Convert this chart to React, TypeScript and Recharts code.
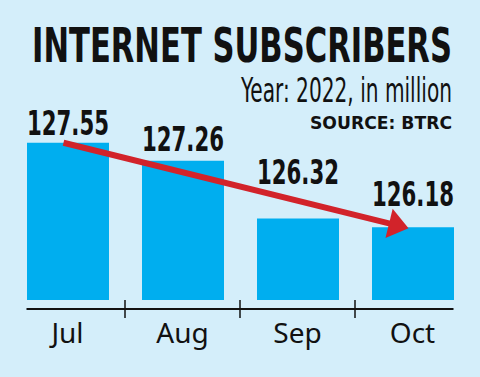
import { BarChart, Bar, XAxis, YAxis, LabelList, ReferenceLine } from "recharts";

const months = ["Jul", "Aug", "Sep", "Oct"];
const subscribers = [127.55, 127.26, 126.32, 126.18];
const yDomain = [125, 128];

const data = months.map((month, i) => ({ month, value: subscribers[i] }));

const BG = "#d4eefa";
const BAR = "#00aeef";
const RED = "#d2232a";
const INK = "#111111";
const NARROW = "'DejaVu Sans Condensed', 'DejaVu Sans', sans-serif";

// gap between a bar top and its value label (labels dodge the arrow)
const labelGap = [8, 10, 35, 21];

const HALF_BAND = 57.5;
const HALF_BAR = 41;

function MonthTick(props: any) {
  const { x, y, payload, index } = props;
  const last = index === months.length - 1;
  const left = index === 0 ? x - HALF_BAR : x - HALF_BAND;
  const right = last ? x + HALF_BAR : x + HALF_BAND;
  return (
    <g>
      <line x1={left} x2={right} y1={y + 9} y2={y + 9} stroke={INK} strokeWidth={2} />
      {!last && (
        <line
          x1={x + HALF_BAND}
          x2={x + HALF_BAND}
          y1={y}
          y2={y + 18}
          stroke={INK}
          strokeWidth={1.5}
        />
      )}
      <text
        x={x}
        y={y + 43}
        textAnchor="middle"
        fontFamily="'Noto Sans', sans-serif"
        fontSize={28}
        fill={INK}
      >
        {payload.value}
      </text>
    </g>
  );
}

// condensed bold figures, stretched vertically like the tall original face
function ValueLabel(props: any) {
  const { x, y, width, value, index } = props;
  const cx = Number(x) + Number(width) / 2;
  const base = Number(y) - labelGap[index];
  return (
    <text
      transform={`translate(${cx},${base}) scale(1,1.4)`}
      x={0}
      y={0}
      textAnchor="middle"
      textLength={width}
      lengthAdjust="spacingAndGlyphs"
      fontFamily={NARROW}
      fontWeight={700}
      fontSize={24.4}
      fill={INK}
    >
      {Number(value).toFixed(2)}
    </text>
  );
}

function TrendArrow(props: any) {
  const x1 = props.x1 - 4;
  const y1 = props.y1;
  const x2 = props.x2 - 4;
  const y2 = props.y2 + 1;
  const dx = x2 - x1;
  const dy = y2 - y1;
  const len = Math.sqrt(dx * dx + dy * dy);
  const ux = dx / len;
  const uy = dy / len;
  const head = 20;
  const half = 15;
  const bx = x2 - ux * head;
  const by = y2 - uy * head;
  const pts = [
    [x2, y2],
    [bx - uy * half, by + ux * half],
    [bx + uy * half, by - ux * half],
  ]
    .map((p) => p.join(","))
    .join(" ");
  return (
    <g>
      <line x1={x1} y1={y1} x2={bx + ux * 2} y2={by + uy * 2} stroke={RED} strokeWidth={6} />
      <polygon points={pts} fill={RED} />
    </g>
  );
}

export default function App() {
  return (
    <div
      style={{
        position: "absolute",
        left: 0,
        top: 0,
        width: 480,
        height: 377,
        background: BG,
      }}
    >
      <BarChart
        width={480}
        height={377}
        data={data}
        margin={{ top: 115, right: 10, left: 10, bottom: 0 }}
      >
        <XAxis
          dataKey="month"
          height={77}
          axisLine={false}
          tickLine={false}
          tickSize={0}
          tickMargin={0}
          interval={0}
          tick={<MonthTick />}
        />
        <YAxis hide domain={yDomain} />
        <Bar dataKey="value" fill={BAR} barSize={82} isAnimationActive={false}>
          <LabelList dataKey="value" content={<ValueLabel />} />
        </Bar>
        <ReferenceLine
          ifOverflow="visible"
          segment={[
            { x: months[0], y: subscribers[0] },
            { x: months[3], y: subscribers[3] },
          ]}
          shape={TrendArrow}
        />
      </BarChart>
      <svg
        width={480}
        height={135}
        style={{ position: "absolute", left: 0, top: 0, pointerEvents: "none" }}
      >
        <text
          transform="translate(32,62) scale(1,1.5)"
          x={0}
          y={0}
          textLength={420}
          lengthAdjust="spacingAndGlyphs"
          fontFamily={NARROW}
          fontWeight={700}
          fontSize={32}
          fill={INK}
        >
          INTERNET SUBSCRIBERS
        </text>
        <text
          transform="translate(452,102) scale(1,1.53)"
          x={0}
          y={0}
          textAnchor="end"
          textLength={211}
          lengthAdjust="spacingAndGlyphs"
          fontFamily={NARROW}
          fontSize={22.4}
          fill={INK}
        >
          Year: 2022, in million
        </text>
        <text
          x={452}
          y={129}
          textAnchor="end"
          textLength={142}
          lengthAdjust="spacingAndGlyphs"
          fontFamily="'DejaVu Sans', sans-serif"
          fontWeight={700}
          fontSize={17}
          fill={INK}
        >
          SOURCE: BTRC
        </text>
      </svg>
    </div>
  );
}
